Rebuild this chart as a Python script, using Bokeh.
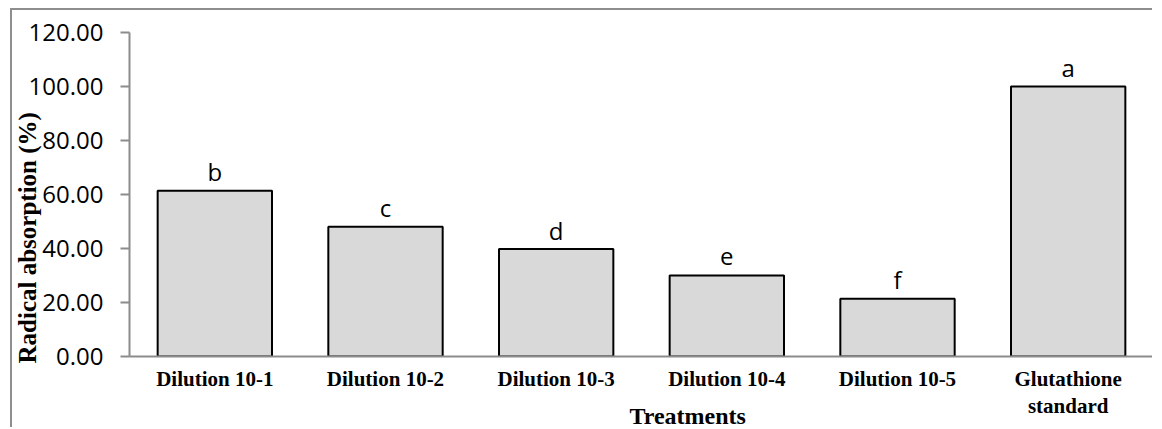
from bokeh.plotting import figure
from bokeh.models import ColumnDataSource, Range1d, FactorRange, NumeralTickFormatter, FixedTicker, Title
from bokeh.core.properties import value
from bokeh.embed import file_html
from bokeh.resources import INLINE

categories = ["Dilution 10-1", "Dilution 10-2", "Dilution 10-3", "Dilution 10-4", "Dilution 10-5", "Glutathione\nstandard"]
values = [61.4, 48.1, 39.8, 30.0, 21.4, 100.0]
letters = ["b", "c", "d", "e", "f", "a"]
y_ticks = [0, 20, 40, 60, 80, 100, 120]

src = ColumnDataSource(dict(cat=categories, val=values, letter=letters))

p = figure(x_range=FactorRange(*categories, range_padding=0), y_range=Range1d(0, 120),
           width=1142, height=419, output_backend="svg", toolbar_location=None,
           min_border_left=117, min_border_right=1, min_border_top=22, min_border_bottom=73)
p.styles = {"border-left": "2px solid #8e8e8e", "border-top": "2px solid #8e8e8e",
            "margin-left": "10px", "margin-top": "8px"}
p.outline_line_color = None
p.xgrid.grid_line_color = None
p.ygrid.grid_line_color = None

p.vbar(x="cat", top="val", width=0.67, bottom=0, source=src,
       fill_color="#d9d9d9", line_color="black", line_width=2)
p.text(x="cat", y="val", text="letter", source=src, y_offset=-19,
       text_align="center", text_baseline="alphabetic",
       text_font=value("Open Sans"), text_font_size="24px", text_color="black")

axcol = "#8c8c8c"
p.yaxis.ticker = FixedTicker(ticks=y_ticks)
p.yaxis.formatter = NumeralTickFormatter(format="0.00")
p.yaxis.axis_line_color = axcol
p.yaxis.axis_line_width = 2
p.yaxis.major_tick_line_color = axcol
p.yaxis.major_tick_line_width = 2
p.yaxis.major_tick_out = 9
p.yaxis.major_tick_in = 0
p.yaxis.minor_tick_line_color = None
p.yaxis.major_label_standoff = 17
p.yaxis.major_label_text_font = "Open Sans"
p.yaxis.major_label_text_font_size = "24px"
p.yaxis.major_label_text_color = "black"

p.xaxis.axis_line_color = axcol
p.xaxis.axis_line_width = 2
p.xaxis.major_tick_line_color = None
p.xaxis.minor_tick_line_color = None
p.xaxis.major_tick_out = 0
p.xaxis.major_label_standoff = 10
p.xaxis.major_label_text_font = "Liberation Serif"
p.xaxis.major_label_text_font_style = "bold"
p.xaxis.major_label_text_font_size = "21px"
p.xaxis.major_label_text_color = "black"
p.xaxis.major_label_text_line_height = 1.13

p.add_layout(Title(text="Treatments", align="left", vertical_align="top", offset=500, standoff=-35,
                   text_font="Liberation Serif", text_font_style="bold",
                   text_font_size="24px", text_color="black"), "below")
p.add_layout(Title(text="Radical absorption (%)", align="left", vertical_align="bottom",
                   offset=-7, standoff=-31,
                   text_font="Liberation Serif", text_font_style="bold",
                   text_font_size="25px", text_color="black"), "left")

open("out.html", "w").write(file_html(p, INLINE))
